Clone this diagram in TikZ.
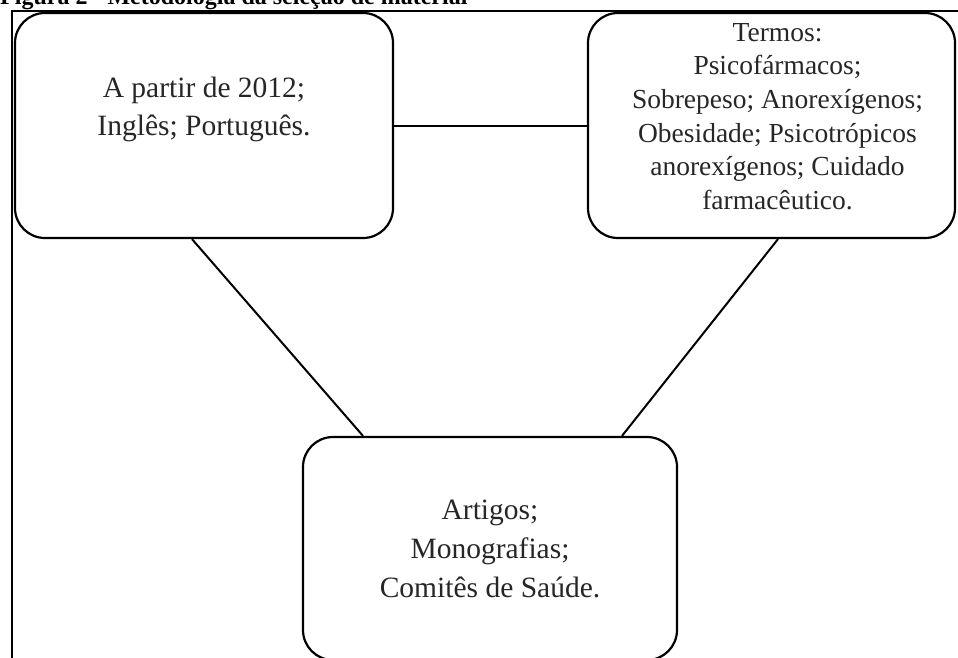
\documentclass[tikz,border=0pt]{standalone}
\usepackage{fontspec}
\setmainfont{Liberation Serif}
\begin{document}
\begin{tikzpicture}[x=1pt,y=-1pt,
	caixa/.style={draw,line width=2.2pt,rounded corners=30pt,inner sep=0pt},
	texto/.style={align=center,inner sep=0pt,text=black!85},
	ligacao/.style={line width=2pt}]
		\useasboundingbox (0,0) rectangle (958,657);
		% titulo (cortado em cima)
		\node[anchor=base west,inner sep=0pt,font=\bfseries\fontsize{24}{29}\selectfont] (titulo) at (0,4) {Figura 2 - Metodologia da sele\c{c}\~ao de material};
		\draw[line width=2pt] (12,660) -- (12,11) -- (960,11);

		\node[caixa,minimum width=378pt,minimum height=225pt] (idioma) at (204,125.5) {};
		\node[caixa,minimum width=367pt,minimum height=225pt] (termos) at (771.5,125.5) {};
		\node[caixa,minimum width=374pt,minimum height=223pt] (fontes) at (490,548.5) {};

		\node[texto,font=\fontsize{29.5}{38}\selectfont] (tidioma) at ([yshift=16pt]idioma.center) {A partir de 2012;\\Ingl\^es; Portugu\^es.};
		\node[texto,font=\fontsize{27.5}{33.6}\selectfont] (ttermos) at ([xshift=6pt,yshift=9pt]termos.center) {Termos:\\Psicof\'armacos;\\Sobrepeso; Anorex\'igenos;\\Obesidade; Psicotr\'opicos\\anorex\'igenos; Cuidado\\farmac\^eutico.};
		\node[texto,font=\fontsize{29.5}{39}\selectfont] (tfontes) at (fontes.center) {Artigos;\\Monografias;\\Comit\^es de Sa\'ude.};

		\draw[ligacao] (idioma.east) -- (termos.west);
		\draw[ligacao] ([xshift=-12pt]idioma.south) -- ([xshift=-127pt]fontes.north);
		\draw[ligacao] ([xshift=6.5pt]termos.south) -- ([xshift=132pt]fontes.north);
\end{tikzpicture}
\end{document}
